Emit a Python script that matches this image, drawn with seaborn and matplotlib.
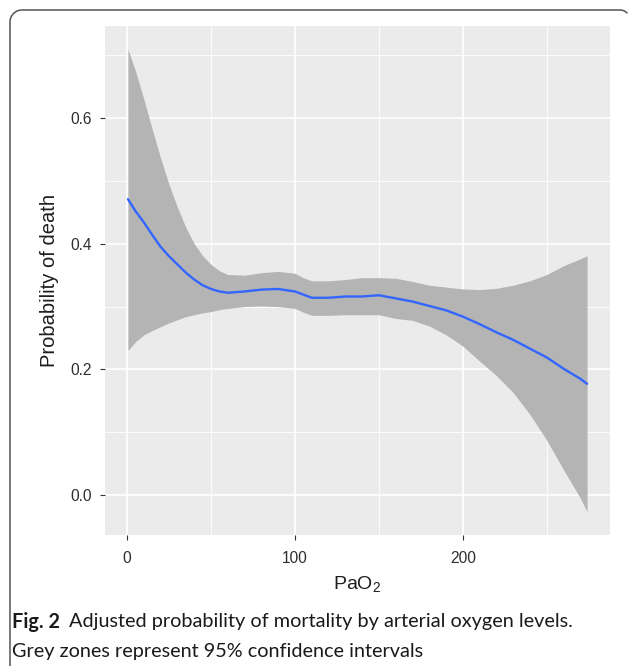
import numpy as np
import pandas as pd
import matplotlib
matplotlib.use("Agg")
import matplotlib.pyplot as plt
from matplotlib.lines import Line2D
from matplotlib.ticker import MultipleLocator
import seaborn as sns

# values
pao2 = [0.5, 5, 10, 15, 20, 25, 30, 35, 40, 45, 50, 55, 60, 70, 80, 90, 100, 105,
        110, 120, 130, 140, 150, 160, 170, 180, 190, 200, 210, 220, 230, 240, 250,
        260, 270, 274]
prob = [0.471, 0.452, 0.434, 0.414, 0.395, 0.380, 0.367, 0.354, 0.343, 0.334,
        0.328, 0.324, 0.322, 0.324, 0.327, 0.328, 0.324, 0.319, 0.314, 0.314,
        0.316, 0.316, 0.318, 0.313, 0.308, 0.301, 0.294, 0.284, 0.272, 0.259,
        0.247, 0.233, 0.219, 0.201, 0.185, 0.177]
ci_upper = [0.710, 0.675, 0.630, 0.582, 0.536, 0.494, 0.458, 0.426, 0.400, 0.381,
            0.367, 0.357, 0.351, 0.350, 0.354, 0.356, 0.353, 0.346, 0.341, 0.341,
            0.343, 0.346, 0.346, 0.345, 0.340, 0.334, 0.331, 0.328, 0.327, 0.329,
            0.334, 0.341, 0.351, 0.365, 0.376, 0.381]
ci_lower = [0.230, 0.244, 0.255, 0.262, 0.268, 0.274, 0.279, 0.284, 0.287, 0.290,
            0.292, 0.295, 0.297, 0.300, 0.301, 0.300, 0.297, 0.291, 0.286, 0.286,
            0.287, 0.287, 0.287, 0.281, 0.278, 0.269, 0.255, 0.237, 0.213, 0.190,
            0.163, 0.128, 0.087, 0.040, -0.005, -0.027]
x_ticks = [0, 100, 200]
y_ticks = [0.0, 0.2, 0.4, 0.6]

df = pd.DataFrame({"PaO2": pao2, "prob": prob, "lo": ci_lower, "hi": ci_upper})

sns.set_theme(style="darkgrid", rc={
    "axes.facecolor": "#EBEBEB",
    "grid.color": "white",
    "axes.edgecolor": "#EBEBEB",
})
plt.rcParams["font.family"] = ["Liberation Sans", "DejaVu Sans"]
plt.rcParams["mathtext.fontset"] = "custom"
plt.rcParams["mathtext.rm"] = "Liberation Sans"
plt.rcParams["mathtext.it"] = "Liberation Sans:italic"

W, H = 629, 666
fig = plt.figure(figsize=(W / 100, H / 100), dpi=100)
fig.patch.set_facecolor("white")
ax = fig.add_axes([105 / W, 1 - 535 / H, (610 - 105) / W, (535 - 26) / H])

ax.fill_between(df["PaO2"], df["lo"], df["hi"], color="#B4B4B4", lw=0, zorder=2)
sns.lineplot(data=df, x="PaO2", y="prob", ax=ax, color="#3366FF", lw=1.7, zorder=3)

# ggplot style expansion of 5 %
xr = max(pao2) - min(pao2)
ax.set_xlim(min(pao2) - 0.05 * xr, max(pao2) + 0.05 * xr)
yr = max(ci_upper) - min(ci_lower)
ax.set_ylim(min(ci_lower) - 0.05 * yr, max(ci_upper) + 0.05 * yr)

ax.set_xticks(x_ticks)
ax.set_yticks(y_ticks)
ax.set_yticklabels([f"{v:.1f}" for v in y_ticks])
ax.xaxis.set_minor_locator(MultipleLocator(50))
ax.yaxis.set_minor_locator(MultipleLocator(0.1))
ax.grid(which="major", color="white", lw=1.2)
ax.grid(which="minor", color="white", lw=0.6)
ax.set_axisbelow(True)
for s in ax.spines.values():
    s.set_visible(False)

ax.tick_params(axis="both", which="major", length=3.5, width=0.8, color="#333333",
               labelcolor="#2e2e2e", labelsize=11.2, bottom=True, left=True)
ax.tick_params(axis="x", which="major", pad=8)
ax.tick_params(axis="y", which="major", pad=6)
ax.tick_params(which="minor", length=0)

ax.set_xlabel("PaO$_2$", fontsize=14, color="#1e1e1e", labelpad=6)
ax.set_ylabel("Probability of death", fontsize=14.5, color="#1e1e1e", labelpad=8)

# rounded frame around the figure (open at the bottom)
r = 12
t = np.linspace(np.pi, np.pi / 2, 20)
bx = list(10 + r + r * np.cos(t))
by = list(H - 10 - r + r * np.sin(t))
px = [10] + bx + [W - 9]
py = [0] + by + [H - 10]
t2 = np.linspace(np.pi / 2, np.pi / 4, 8)
px += list(W - 9 + 10 * np.cos(t2))
py += list(H - 20 + 10 * np.sin(t2))
fig.add_artist(Line2D(np.array(px) / W, np.array(py) / H, transform=fig.transFigure,
                      color="#555555", lw=1.1))

# caption
cap_font = ["Lato", "DejaVu Sans"]
cap_size = 14.3
fig_lbl = fig.text(12 / W, 1 - 622 / H, "Fig. 2", fontsize=cap_size, fontweight="bold",
                   family=cap_font, va="center", ha="left", color="#1a1a1a")
fig.canvas.draw()
bb = fig_lbl.get_window_extent()
fig.text((bb.x1 + 9) / W, 1 - 622 / H,
         "Adjusted probability of mortality by arterial oxygen levels.",
         fontsize=cap_size, family=cap_font, va="center", ha="left", color="#1a1a1a")
fig.text(12 / W, 1 - 651 / H, "Grey zones represent 95% confidence intervals",
         fontsize=cap_size, family=cap_font, va="center", ha="left", color="#1a1a1a")

fig.savefig("out.png", dpi=100)
